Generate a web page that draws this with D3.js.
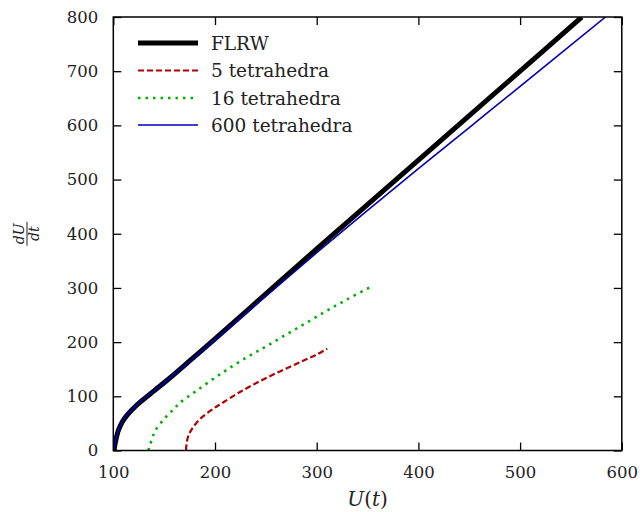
<!DOCTYPE html>
<html><head><meta charset="utf-8">
<script src="https://cdn.jsdelivr.net/npm/d3@7"></script>
<style>
html,body{margin:0;padding:0;background:#fff;}
svg text{font-family:"DejaVu Serif",serif;fill:#222;}
</style></head>
<body><svg id="c" width="644" height="512"></svg>
<script>
// ---- data ----
const xTicks = [100, 200, 300, 400, 500, 600];
const yTicks = [0, 100, 200, 300, 400, 500, 600, 700, 800];

const flrwU = [100.8, 101.5, 102.5, 104.6, 107, 109.5, 113, 117.7, 127.5, 140.7, 153.8, 176.7, 200, 250, 300, 400, 500, 560.6];
const flrwV = [0, 10, 19, 35, 46, 55, 64, 74, 91, 111, 131, 168, 206, 289, 372, 536, 700, 800];

const t5U = [171.5, 172.2, 174, 177.1, 185.2, 198.3, 206.6, 224.6, 244.2, 263.9, 283.6, 300, 310.4];
const t5V = [0, 14, 28, 39, 58, 77, 87, 108, 128, 146, 163, 177, 188];

const t16U = [134.8, 135.4, 137.4, 141, 150.8, 158.7, 165.6, 181.6, 206, 231.2, 251, 271, 291, 311, 331, 352];
const t16V = [0, 8, 17, 36, 60, 75, 88, 110, 142, 172, 193, 215, 237, 259, 280, 301];

const t600U = [100.8, 101.5, 102.5, 104.6, 107, 109.5, 113, 117.7, 127.5, 140.7, 153.8, 176.7, 200, 250, 300, 350, 400, 450, 500, 584];
const t600V = [0, 10, 19, 35, 46, 55, 64, 74, 91, 111, 131, 167, 204, 285, 365, 443, 520, 596, 672, 800];

const seriesNames = ["FLRW", "5 tetrahedra", "16 tetrahedra", "600 tetrahedra"];

// ---- layout ----
const svg = d3.select("#c");
const L = 113.3, R = 621.8, T = 17, B = 450.5;
const x = d3.scaleLinear().domain([100, 600]).range([L, R]);
const y = d3.scaleLinear().domain([0, 800]).range([B, T]);

const zip = (a, b) => a.map((u, i) => [u, b[i]]);
const series = [
  {name: seriesNames[0], pts: zip(flrwU, flrwV), color: "#000", width: 5, dash: null},
  {name: seriesNames[1], pts: zip(t5U, t5V), color: "#b00000", width: 2.2, dash: "6,3"},
  {name: seriesNames[2], pts: zip(t16U, t16V), color: "#00b000", width: 2.6, dash: "2.5,5"},
  {name: seriesNames[3], pts: zip(t600U, t600V), color: "#0000b4", width: 1.6, dash: null}
];

const line = d3.line().x(d => x(d[0])).y(d => y(d[1])).curve(d3.curveCatmullRom.alpha(0.5));

svg.append("clipPath").attr("id", "pc").append("rect")
  .attr("x", L).attr("y", T).attr("width", R - L).attr("height", B - T);

const g = svg.append("g").attr("clip-path", "url(#pc)");
series.forEach(s => {
  g.append("path").datum(s.pts).attr("d", line)
    .attr("fill", "none").attr("stroke", s.color).attr("stroke-width", s.width)
    .attr("stroke-dasharray", s.dash).attr("stroke-linejoin", "round");
});

// axes with inward ticks, mirrored
const tl = 8;
const fs = 16.5;
svg.append("g").attr("transform", `translate(0,${B})`)
  .call(d3.axisBottom(x).tickValues(xTicks).tickSizeInner(-tl).tickSizeOuter(0).tickPadding(tl + 8))
  .call(a => { a.select(".domain").remove(); a.selectAll("line").attr("stroke", "#000").attr("stroke-width", 1.3);
    a.selectAll("text").attr("font-size", fs).attr("font-family", "DejaVu Serif").attr("fill", "#222"); });
svg.append("g").attr("transform", `translate(0,${T})`)
  .call(d3.axisTop(x).tickValues(xTicks).tickSizeInner(-tl).tickSizeOuter(0).tickFormat(""))
  .call(a => { a.select(".domain").remove(); a.selectAll("line").attr("stroke", "#000").attr("stroke-width", 1.3); });
svg.append("g").attr("transform", `translate(${L},0)`)
  .call(d3.axisLeft(y).tickValues(yTicks).tickSizeInner(-tl).tickSizeOuter(0).tickPadding(tl + 7))
  .call(a => { a.select(".domain").remove(); a.selectAll("line").attr("stroke", "#000").attr("stroke-width", 1.3);
    a.selectAll("text").attr("font-size", fs).attr("font-family", "DejaVu Serif").attr("fill", "#222"); });
svg.append("g").attr("transform", `translate(${R},0)`)
  .call(d3.axisRight(y).tickValues(yTicks).tickSizeInner(-tl).tickSizeOuter(0).tickFormat(""))
  .call(a => { a.select(".domain").remove(); a.selectAll("line").attr("stroke", "#000").attr("stroke-width", 1.3); });

svg.append("rect").attr("x", L).attr("y", T).attr("width", R - L).attr("height", B - T)
  .attr("fill", "none").attr("stroke", "#000").attr("stroke-width", 1.5);

// legend
const lg = svg.append("g");
const rowY = [43, 70.5, 98, 125];
series.forEach((s, i) => {
  lg.append("line").attr("x1", 138).attr("x2", 198).attr("y1", rowY[i]).attr("y2", rowY[i])
    .attr("stroke", s.color).attr("stroke-width", s.width).attr("stroke-dasharray", s.dash);
  lg.append("text").attr("x", 211).attr("y", rowY[i]).attr("dy", "0.36em")
    .attr("font-size", 18.5).text(s.name);
});

// axis titles
const xt = svg.append("text").attr("x", (L + R) / 2).attr("y", 506).attr("text-anchor", "middle").attr("font-size", 20);
xt.append("tspan").attr("font-style", "italic").text("U");
xt.append("tspan").text("(");
xt.append("tspan").attr("font-style", "italic").text("t");
xt.append("tspan").text(")");

const yl = svg.append("g").attr("transform", `translate(27,${(T + B) / 2}) rotate(-90)`);
yl.append("text").attr("x", 0).attr("y", -3).attr("text-anchor", "middle").attr("font-size", 14).attr("font-style", "italic").text("dU");
yl.append("line").attr("x1", -12).attr("x2", 12).attr("y1", 0).attr("y2", 0).attr("stroke", "#222").attr("stroke-width", 1);
yl.append("text").attr("x", 0).attr("y", 12).attr("text-anchor", "middle").attr("font-size", 14).attr("font-style", "italic").text("dt");
</script></body></html>
